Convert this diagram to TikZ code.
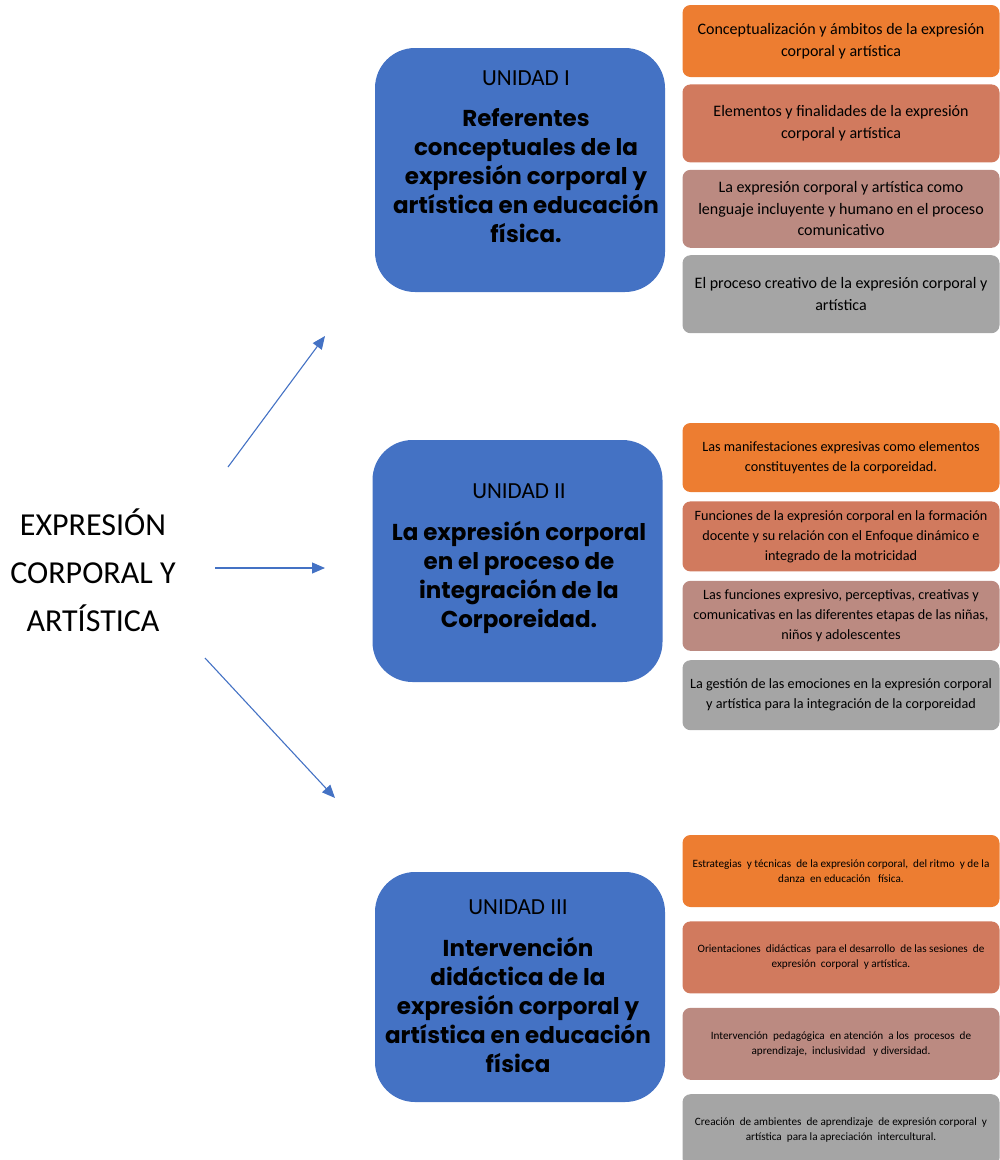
\documentclass[tikz,border=0pt]{standalone}
\usepackage{fontspec}
\setmainfont{Carlito}
\newfontfamily\titlefont{Poppins}
\usetikzlibrary{arrows.meta,positioning}

\definecolor{unitblue}{HTML}{4472C4}
\definecolor{toporange}{HTML}{ED7D31}
\definecolor{topsalmon}{RGB}{209,122,94}
\definecolor{topmauve}{RGB}{187,138,129}
\definecolor{topgray}{HTML}{A5A5A5}

\begin{document}
\begin{tikzpicture}[
    x=1pt, y=-1pt,
    node distance=7pt,
    unit/.style={rectangle, rounded corners=40pt, fill=unitblue, minimum width=290pt},
    unithead/.style={font=\fontsize{23}{28}\selectfont, anchor=base, inner sep=0pt},
    unittext/.style={font=\titlefont\bfseries\fontsize{23}{29}\selectfont, align=center, inner sep=0pt},
    topic/.style={rectangle, rounded corners=8pt, minimum width=317pt, inner sep=0pt, align=center},
    small/.style={topic, font=\fontsize{16}{21.5}\selectfont},
    smaller/.style={topic, font=\fontsize{14.2}{20}\selectfont},
    tiny/.style={topic, font=\fontsize{11.2}{15}\selectfont},
    link/.style={-{Triangle[length=13pt,width=11pt]}, line width=1.1pt, draw=unitblue}
]
    \useasboundingbox (0,0) rectangle (1000,1160);

    % --- Subject title and its three links ---
    \node[font=\fontsize{32}{48}\selectfont, align=center] (subject) at (93,570) {EXPRESIÓN\\CORPORAL Y\\ARTÍSTICA};

    \coordinate (l1s) at (228,467);
    \coordinate (l1e) at (325,336);
    \coordinate (l2s) at (215,568);
    \coordinate (l2e) at (325,568);
    \coordinate (l3s) at (205,658);
    \coordinate (l3e) at (335,798);
    \draw[link] (l1s) -- (l1e);
    \draw[link] (l2s) -- (l2e);
    \draw[link] (l3s) -- (l3e);

    % --- Unidad I ---
    \node[unit, minimum height=244pt] (u1) at (520,170) {};
    \node[unithead] (h1) at (526,85) {UNIDAD I};
    \node[unittext, below=23pt of h1.base] (t1) {Referentes\\conceptuales de la\\expresión corporal y\\artística en educación\\física.};

    \node[small, fill=toporange, minimum height=72pt] (u1a) at (841,41) {Conceptualización y ámbitos de la expresión\\corporal y artística};
    \node[small, fill=topsalmon, minimum height=78pt, below=of u1a] (u1b) {Elementos y finalidades de la expresión\\corporal y artística};
    \node[small, fill=topmauve, minimum height=78pt, below=of u1b] (u1c) {La expresión corporal y artística como\\lenguaje incluyente y humano en el proceso\\comunicativo};
    \node[small, fill=topgray, minimum height=78pt, below=of u1c] (u1d) {El proceso creativo de la expresión corporal y\\artística};

    % --- Unidad II ---
    \node[unit, minimum height=242pt] (u2) at (517.5,561) {};
    \node[unithead] (h2) at (519,498) {UNIDAD II};
    \node[unittext, below=23pt of h2.base] (t2) {La expresión corporal\\en el proceso de\\integración de la\\Corporeidad.};

    \node[smaller, fill=toporange, minimum height=69pt] (u2a) at (841,457.5) {Las manifestaciones expresivas como elementos\\constituyentes de la corporeidad.};
    \node[smaller, fill=topsalmon, minimum height=70pt, below=9pt of u2a] (u2b) {Funciones de la expresión corporal en la formación\\docente y su relación con el Enfoque dinámico e\\integrado de la motricidad};
    \node[smaller, fill=topmauve, minimum height=70pt, below=9pt of u2b] (u2c) {Las funciones expresivo, perceptivas, creativas y\\comunicativas en las diferentes etapas de las niñas,\\niños y adolescentes};
    \node[smaller, fill=topgray, minimum height=70pt, below=9pt of u2c] (u2d) {La gestión de las emociones en la expresión corporal\\y artística para la integración de la corporeidad};

    % --- Unidad III ---
    \node[unit, minimum height=230pt] (u3) at (520,987) {};
    \node[unithead] (h3) at (518,914) {UNIDAD III};
    \node[unittext, below=23pt of h3.base] (t3) {Intervención\\didáctica de la\\expresión corporal y\\artística en educación\\física};

    \node[tiny, fill=toporange, minimum height=72pt] (u3a) at (841,871) {Estrategias \ y técnicas \ de la expresión corporal, \ del ritmo \ y de la\\danza \ en educación \ \ física.};
    \node[tiny, fill=topsalmon, minimum height=72pt, below=14pt of u3a] (u3b) {Orientaciones \ didácticas \ para el desarrollo \ de las sesiones \ de\\expresión \ corporal \ y artística.};
    \node[tiny, fill=topmauve, minimum height=72pt, below=14pt of u3b] (u3c) {Intervención \ pedagógica \ en atención \ a los \ procesos \ de\\aprendizaje, \ inclusividad \ \ y diversidad.};
    \node[tiny, fill=topgray, minimum height=72pt, below=14pt of u3c] (u3d) {Creación \ de ambientes \ de aprendizaje \ de expresión corporal \ y\\artística \ para la apreciación \ intercultural.};
\end{tikzpicture}
\end{document}
